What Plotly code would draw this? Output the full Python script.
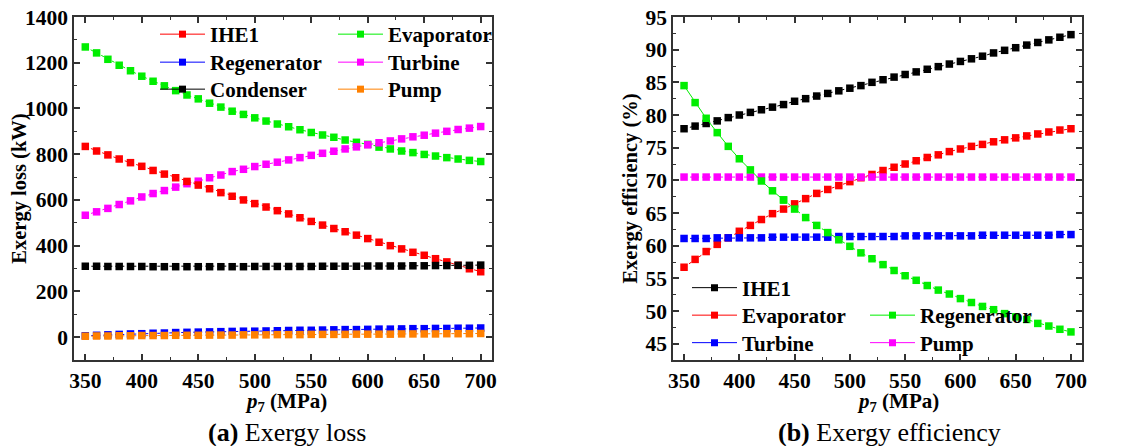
import plotly.graph_objects as go

# ---------------- data ----------------
p7 = [350, 360, 370, 380, 390, 400, 410, 420, 430, 440, 450, 460, 470, 480, 490, 500, 510, 520,
      530, 540, 550, 560, 570, 580, 590, 600, 610, 620, 630, 640, 650, 660, 670, 680, 690, 700]

# (a) exergy loss, kW
ihe1_loss = [834, 814, 797, 779, 763, 747, 729, 713, 697, 681, 665, 649, 632, 616, 600, 584, 569, 553,
             539, 522, 506, 490, 475, 461, 446, 431, 415, 400, 386, 371, 358, 343, 329, 314, 299, 286]
evap_loss = [1269, 1243, 1215, 1189, 1165, 1141, 1119, 1099, 1078, 1059, 1042, 1023, 1006, 988, 974, 959, 945, 932,
             920, 907, 895, 884, 874, 862, 852, 843, 831, 823, 814, 807, 799, 792, 785, 779, 773, 768]
regen_loss = [6, 8, 10, 12, 14, 15, 17, 18, 20, 21, 22, 23, 24, 25, 26, 26, 27, 28,
              29, 30, 30, 31, 32, 33, 33, 34, 35, 35, 36, 37, 37, 38, 38, 39, 39, 40]
turb_loss = [533, 548, 563, 580, 596, 613, 628, 641, 656, 671, 682, 697, 709, 724, 734, 746, 756, 765,
             775, 785, 795, 804, 813, 823, 832, 841, 850, 858, 867, 876, 883, 892, 900, 908, 914, 921]
cond_loss = [310, 310, 309, 309, 309, 309, 308, 308, 308, 308, 308, 308, 308, 308, 308, 309, 309, 309,
             309, 309, 309, 310, 310, 310, 310, 311, 311, 311, 311, 312, 312, 313, 313, 314, 314, 315]
pump_loss = [4, 5, 5, 6, 6, 7, 7, 7, 8, 8, 8, 9, 9, 9, 10, 10, 10, 11,
             11, 11, 12, 12, 12, 12, 13, 13, 13, 13, 14, 14, 14, 14, 15, 15, 15, 16]

# (b) exergy efficiency, %
ihe1_eff = [77.9, 78.3, 78.7, 79.1, 79.6, 80.0, 80.4, 80.8, 81.2, 81.6, 82.1, 82.5, 82.9, 83.3, 83.7, 84.1, 84.5, 85.0,
            85.4, 85.8, 86.2, 86.6, 87.0, 87.4, 87.8, 88.2, 88.6, 89.0, 89.5, 89.9, 90.3, 90.7, 91.1, 91.5, 91.9, 92.3]
evap_eff = [56.7, 57.9, 59.1, 60.2, 61.2, 62.2, 63.1, 64.0, 64.9, 65.6, 66.4, 67.2, 68.0, 68.6, 69.2, 69.8, 70.4, 70.9,
            71.5, 72.0, 72.5, 73.0, 73.5, 73.9, 74.4, 74.8, 75.2, 75.5, 75.9, 76.2, 76.5, 76.8, 77.1, 77.4, 77.7, 77.9]
regen_eff = [84.5, 81.9, 79.5, 77.3, 75.2, 73.3, 71.6, 69.9, 68.4, 67.0, 65.6, 64.3, 63.1, 62.0, 60.9, 59.9, 58.9, 58.0,
             57.1, 56.2, 55.4, 54.7, 53.9, 53.2, 52.6, 51.9, 51.3, 50.7, 50.2, 49.6, 49.1, 48.7, 48.1, 47.7, 47.2, 46.8]
turb_eff = [61.1, 61.1, 61.1, 61.2, 61.2, 61.2, 61.2, 61.2, 61.3, 61.3, 61.3, 61.3, 61.3, 61.3, 61.4, 61.4, 61.4, 61.4,
            61.4, 61.4, 61.5, 61.5, 61.5, 61.5, 61.5, 61.5, 61.5, 61.6, 61.6, 61.6, 61.6, 61.6, 61.6, 61.6, 61.7, 61.7]
pump_eff = [70.5, 70.5, 70.5, 70.5, 70.5, 70.5, 70.5, 70.5, 70.5, 70.5, 70.5, 70.5, 70.5, 70.5, 70.5, 70.5, 70.5, 70.5,
            70.5, 70.5, 70.5, 70.5, 70.5, 70.5, 70.5, 70.5, 70.5, 70.5, 70.5, 70.5, 70.5, 70.5, 70.5, 70.5, 70.5, 70.5]

x_ticks = [350, 400, 450, 500, 550, 600, 650, 700]
loss_ticks = [0, 200, 400, 600, 800, 1000, 1200, 1400]
eff_ticks = [45, 50, 55, 60, 65, 70, 75, 80, 85, 90, 95]

RED, GREEN, BLUE, MAG, BLACK, ORANGE = "#FF0000", "#00EE00", "#0000FF", "#FF00FF", "#000000", "#FF8000"

# page body has an 8px margin -> figure is 8px smaller than the window and shifted
OFF = 8
W, H = 1137 - OFF, 446 - OFF
FONT = "Liberation Serif, Times New Roman, serif"


def px(x):
    return (x - OFF) / W


def py(y):
    return 1 - (y - OFF) / H


fig = go.Figure()


def series(x, y, color, xa, ya, dash="dot"):
    fig.add_trace(go.Scatter(
        x=x, y=y, mode="lines+markers", xaxis=xa, yaxis=ya, showlegend=False,
        line=dict(color=color, width=1, dash=dash),
        marker=dict(symbol="square", size=7.5, color=color, line=dict(width=0)),
        hoverinfo="x+y"))


def legend_entry(name, color, legend):
    fig.add_trace(go.Scatter(
        x=[None], y=[None], mode="lines+markers", name=name, legend=legend,
        line=dict(color=color, width=1),
        marker=dict(symbol="square", size=7, color=color, line=dict(width=0))))


# left panel
series(p7, evap_loss, GREEN, "x", "y")
series(p7, turb_loss, MAG, "x", "y")
series(p7, ihe1_loss, RED, "x", "y")
series(p7, cond_loss, BLACK, "x", "y")
series(p7, regen_loss, BLUE, "x", "y")
series(p7, pump_loss, ORANGE, "x", "y")

# right panel
series(p7, ihe1_eff, BLACK, "x2", "y2")
series(p7, evap_eff, RED, "x2", "y2")
series(p7, pump_eff, MAG, "x2", "y2")
series(p7, turb_eff, BLUE, "x2", "y2")
series(p7[:10], regen_eff[:10], GREEN, "x2", "y2", dash="solid")
series(p7[9:], regen_eff[9:], GREEN, "x2", "y2")

# legend entries: (name, colour, symbol-line start x, row centre y) in page pixels
legend_items = [
    ("IHE1", RED, 160, 34.5), ("Regenerator", BLUE, 160, 62.5), ("Condenser", BLACK, 160, 89.5),
    ("Evaporator", GREEN, 338, 34.5), ("Turbine", MAG, 338, 62.5), ("Pump", ORANGE, 338, 89.5),
    ("IHE1", BLACK, 692, 288), ("Evaporator", RED, 692, 315.5), ("Turbine", BLUE, 692, 343),
    ("Regenerator", GREEN, 870, 315.5), ("Pump", MAG, 870, 343),
]

legfont = dict(family=FONT, size=21, color="black", weight="bold")
legend_layout = {}
for i, (name, color, lx, ly) in enumerate(legend_items):
    key = "legend" if i == 0 else f"legend{i + 1}"
    legend_entry(name, color, key)
    legend_layout[key] = dict(
        x=px(lx - 5), y=py(ly), xanchor="left", yanchor="middle", xref="paper", yref="paper",
        font=legfont, bgcolor="rgba(0,0,0,0)", borderwidth=0, itemwidth=45,
        itemclick=False, itemdoubleclick=False)

tickfont = dict(family=FONT, size=21.5, color="black", weight="bold")
titlefont = dict(family=FONT, size=20.5, color="black", weight="bold")
xtitlefont = dict(family=FONT, size=21, color="black", weight="bold")
axcommon = dict(showline=True, linecolor="#333333", linewidth=1.5, mirror="allticks",
                ticks="inside", ticklen=6, tickwidth=1.5, tickcolor="#333333",
                showgrid=False, zeroline=False, tickfont=tickfont, automargin=False,
                ticklabeloverflow="allow")

yb, yt = py(360), py(17)

fig.update_layout(
    width=W, height=H, margin=dict(l=0, r=0, t=0, b=0),
    template="none", paper_bgcolor="white", plot_bgcolor="white",
    font=dict(family=FONT, color="black"),
    xaxis=dict(domain=[px(74), px(492)], range=[340, 710], tickvals=x_ticks,
               minor=dict(ticks="inside", ticklen=3.5, tickwidth=1.2, tickcolor="#333333", dtick=25, tick0=350),
               **axcommon),
    yaxis=dict(domain=[yb, yt], range=[-100, 1400], tickvals=loss_ticks,
               minor=dict(ticks="inside", ticklen=3.5, tickwidth=1.2, tickcolor="#333333", dtick=100, tick0=0),
               title=dict(text="Exergy loss (kW)", font=titlefont, standoff=5), **axcommon),
    xaxis2=dict(domain=[px(673), px(1082)], range=[340, 710], tickvals=x_ticks, anchor="y2",
                minor=dict(ticks="inside", ticklen=3.5, tickwidth=1.2, tickcolor="#333333", dtick=25, tick0=350),
                **axcommon),
    yaxis2=dict(domain=[yb, yt], range=[42.5, 95], tickvals=eff_ticks, anchor="x2",
                minor=dict(ticks="inside", ticklen=3.5, tickwidth=1.2, tickcolor="#333333", dtick=2.5, tick0=45),
                title=dict(text="Exergy efficiency (%)", font=titlefont, standoff=2), **axcommon),
    **legend_layout,
)

# x-axis titles
for cx in (286, 898):
    fig.add_annotation(text="<i>p</i><sub>7</sub> (MPa)", xref="paper", yref="paper",
                       x=px(cx), y=py(402), showarrow=False, xanchor="center", yanchor="middle",
                       font=xtitlefont)

fig.add_annotation(text="<b>(a)</b> Exergy loss", xref="paper", yref="paper",
                   x=px(287), y=py(432), showarrow=False, xanchor="center", yanchor="middle",
                   font=dict(family=FONT, size=26, color="black"))
fig.add_annotation(text="<b>(b)</b> Exergy efficiency", xref="paper", yref="paper",
                   x=px(889), y=py(432), showarrow=False, xanchor="center", yanchor="middle",
                   font=dict(family=FONT, size=26, color="black"))

fig.write_html("out.html")
